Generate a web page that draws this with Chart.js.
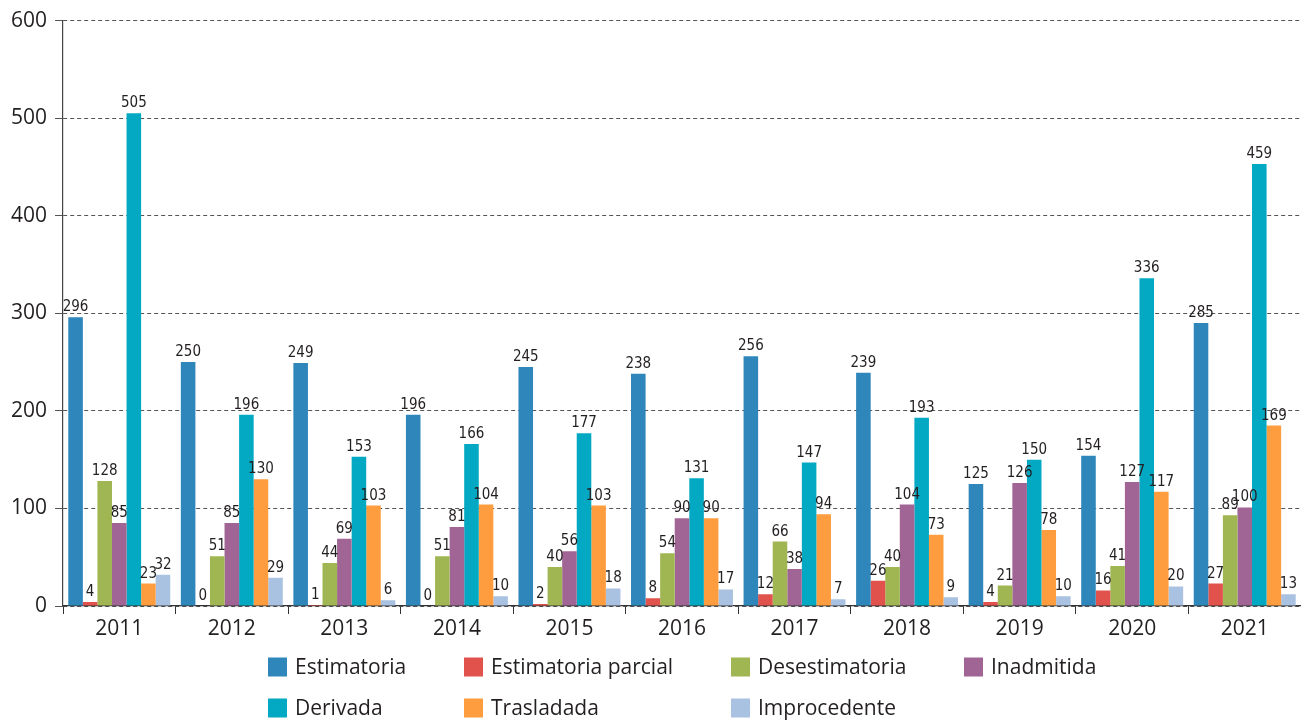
<!DOCTYPE html>
<html><head><meta charset="utf-8">
<script src="https://cdn.jsdelivr.net/npm/chart.js@4.4.0/dist/chart.umd.min.js"></script>
<style>html,body{margin:0;padding:0;background:#fff;overflow:hidden}</style>
</head><body>
<canvas id="c" width="1301" height="722"></canvas>
<script>
// ---- Data (printed labels) ----
const years = ['2011','2012','2013','2014','2015','2016','2017','2018','2019','2020','2021'];
const estimatoria        = [296,250,249,196,245,238,256,239,125,154,285];
const estimatoriaParcial = [4,0,1,0,2,8,12,26,4,16,27];
const desestimatoria     = [128,51,44,51,40,54,66,40,21,41,89];
const inadmitida         = [85,85,69,81,56,90,38,104,126,127,100];
const derivada           = [505,196,153,166,177,131,147,193,150,336,459];
const trasladada         = [23,130,103,104,103,90,94,73,78,117,169];
const improcedente       = [32,29,6,10,18,17,7,9,10,20,13];
// In the source, the 2021 bars are drawn at slightly different heights than their printed labels
const drawn2021 = [290,23,93,101,453,185,12];
const seriesNames = ['Estimatoria','Estimatoria parcial','Desestimatoria','Inadmitida','Derivada','Trasladada','Improcedente'];
const seriesColors = ['#2e86bb','#e0524b','#9fb652','#a06594','#03a9c3','#fd9d3f','#aac2e1'];
const yTicks = [0,100,200,300,400,500,600];

const printed = [estimatoria,estimatoriaParcial,desestimatoria,inadmitida,derivada,trasladada,improcedente];
const datasets = printed.map((arr,i)=>({
  label: seriesNames[i],
  data: arr.map((v,j)=> j===arr.length-1 ? drawn2021[i] : v),
  printed: arr,
  backgroundColor: seriesColors[i],
  borderWidth: 0,
  categoryPercentage: 0.906,
  barPercentage: 1.0
}));

const FONT_REG = "'Open Sans', sans-serif";
const FONT_NARROW = "'Liberation Sans Narrow','Arial Narrow','DejaVu Sans Condensed',sans-serif";

const valueLabels = {
  id:'valueLabels',
  afterDatasetsDraw(chart){
    const ctx = chart.ctx;
    ctx.save();
    ctx.font = "15px " + FONT_NARROW;
    ctx.fillStyle = '#231f20';
    ctx.textAlign = 'center';
    ctx.textBaseline = 'alphabetic';
    chart.data.datasets.forEach((ds,di)=>{
      const meta = chart.getDatasetMeta(di);
      meta.data.forEach((bar,j)=>{
        ctx.fillText(String(ds.printed[j]), bar.x, bar.y - 6);
      });
    });
    ctx.restore();
  }
};

const customLegend = {
  id:'customLegend',
  afterDraw(chart){
    const ctx = chart.ctx;
    const cols = [268,464,731,964];
    const rows = [667,708];
    const order = [[0,1,2,3],[4,5,6]];
    ctx.save();
    ctx.font = "21px " + FONT_REG;
    ctx.textBaseline = 'middle';
    ctx.textAlign = 'left';
    order.forEach((r,ri)=>{
      r.forEach((di,ci)=>{
        const ds = chart.data.datasets[di];
        const x = cols[ci], y = rows[ri];
        ctx.fillStyle = ds.backgroundColor;
        ctx.fillRect(x, y-9.5, 19, 19);
        ctx.fillStyle = '#231f20';
        ctx.fillText(ds.label, x+27, y+1);
      });
    });
    ctx.restore();
  }
};

new Chart(document.getElementById('c'), {
  type:'bar',
  data:{ labels: years, datasets },
  options:{
    responsive:false,
    animation:false,
    layout:{ padding:{ top:19, right:0, left:0, bottom:0 } },
    plugins:{ legend:{display:false}, tooltip:{enabled:false} },
    scales:{
      x:{
        offset:true,
        grid:{ display:true, offset:true, drawOnChartArea:false, drawTicks:true, tickLength:8, color:'#333', lineWidth:1 },
        border:{ display:true, color:'#333', width:1.2 },
        ticks:{ color:'#231f20', font:{ family:FONT_REG, size:21 }, padding:2 },
        afterFit(scale){ scale.height = 116; }
      },
      y:{
        min:0, max:600,
        afterBuildTicks(scale){ scale.ticks = yTicks.map(v=>({value:v})); },
        grid:{ color:'#555', lineWidth:1, drawTicks:true, tickLength:8, tickColor:'#555' },
        border:{ display:true, color:'#444', width:1.2, dash:[4,3] },
        ticks:{ color:'#231f20', font:{ family:FONT_REG, size:21 }, padding:8 },
        afterFit(scale){ scale.width = 63; }
      }
    }
  },
  plugins:[valueLabels, customLegend]
});
</script>
</body></html>
